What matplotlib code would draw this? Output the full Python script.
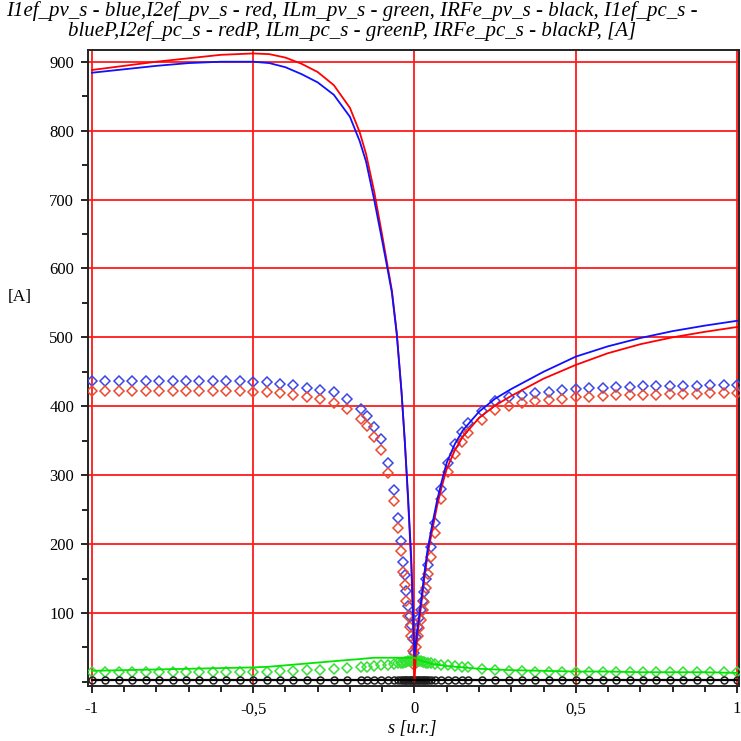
import matplotlib
matplotlib.use("Agg")
import matplotlib.pyplot as plt
from matplotlib.ticker import FixedLocator, MultipleLocator

# ---- data: "pv" series drawn as lines ----
s_line = [-1.0, -0.9, -0.8, -0.7, -0.6, -0.5, -0.45, -0.4, -0.35, -0.3, -0.25, -0.2,
          -0.17, -0.15, -0.125, -0.1, -0.085, -0.07, -0.055, -0.04, -0.03, -0.02, -0.01,
          -0.005, 0.0, 0.005, 0.01, 0.02, 0.03, 0.04, 0.055, 0.07, 0.085, 0.1, 0.125,
          0.15, 0.2, 0.25, 0.3, 0.4, 0.5, 0.6, 0.7, 0.8, 0.9, 1.0]
I1ef_pv = [884, 889, 894, 898, 900, 900, 898, 892, 882, 870, 852, 820,
           785, 755, 700, 640, 603, 565, 505, 420, 350, 270, 180,
           110, 38, 60, 80, 115, 155, 190, 228, 263, 292, 318, 345,
           365, 392, 411, 425, 450, 472, 487, 499, 509, 517, 524]
I2ef_pv = [888, 894, 900, 905, 910, 912, 911, 906, 897, 885, 866, 833,
           798, 766, 712, 648, 608, 568, 507, 420, 348, 265, 170,
           95, 0, 45, 70, 108, 148, 183, 220, 255, 284, 309, 336,
           356, 383, 401, 415, 440, 460, 477, 490, 500, 508, 515]
ILm_pv = [16, 17, 18, 19, 20, 21, 22, 24, 26, 28, 30, 32,
          33, 34, 35, 35, 35, 35, 35, 35, 35, 35, 35,
          35, 35, 34, 33, 31, 29, 28, 26, 25, 24, 23, 22,
          21, 19, 18, 17, 16, 15, 15, 14, 14, 14, 13]
IRFe_pv = [3, 3, 3, 3, 3, 3, 3, 3, 3, 3, 3, 3,
           3, 3, 3, 3, 3, 3, 3, 3, 3, 3, 3,
           3, 3, 3, 3, 3, 3, 3, 3, 3, 3, 3, 3,
           3, 3, 3, 3, 3, 3, 3, 3, 3, 3, 3]

# ---- data: "pc" series drawn as markers ----
s_pc = [-1.0, -0.958, -0.917, -0.875, -0.833, -0.792, -0.75, -0.708, -0.667, -0.625,
        -0.583, -0.542, -0.5, -0.458, -0.417, -0.375, -0.333, -0.292, -0.25, -0.208,
        -0.167, -0.146, -0.125, -0.104, -0.083, -0.0625, -0.05, -0.042, -0.035, -0.03,
        -0.025, -0.02, -0.015, -0.01, -0.005, 0.0,
        0.005, 0.01, 0.015, 0.02, 0.025, 0.03, 0.035, 0.042, 0.05, 0.0625,
        0.083, 0.104, 0.125, 0.146, 0.167, 0.208, 0.25, 0.292, 0.333, 0.375,
        0.417, 0.458, 0.5, 0.542, 0.583, 0.625, 0.667, 0.708, 0.75, 0.792,
        0.833, 0.875, 0.917, 0.958, 1.0]
I1ef_pc = [436, 436, 436, 436, 436, 436, 436, 436, 436, 436,
           436, 436, 435, 435, 433, 431, 427, 424, 420, 411,
           396, 386, 370, 352, 318, 278, 238, 205, 174, 155,
           132, 110, 95, 82, 62, 42,
           65, 80, 92, 104, 118, 130, 150, 170, 195, 230,
           280, 318, 345, 362, 375, 393, 408, 413, 416, 419,
           421, 423, 425, 426, 427, 428, 428, 429, 429, 430,
           430, 430, 431, 431, 431]
I2ef_pc = [422, 422, 422, 422, 422, 422, 422, 422, 422, 422,
           422, 422, 421, 421, 419, 417, 413, 410, 405, 396,
           381, 371, 355, 337, 303, 263, 223, 190, 160, 140,
           118, 96, 80, 66, 45, 25,
           50, 66, 78, 90, 104, 116, 136, 156, 181, 216,
           266, 304, 331, 348, 361, 380, 395, 400, 404, 407,
           409, 411, 413, 414, 415, 416, 416, 417, 417, 418,
           418, 418, 419, 419, 419]
ILm_pc = [15, 15, 15, 15, 15, 15, 15, 15, 15, 15,
          15, 15, 15, 15, 16, 16, 17, 17, 18, 20,
          21, 22, 23, 24, 25, 26, 27, 28, 28, 29,
          29, 30, 30, 31, 31, 32,
          31, 31, 30, 30, 29, 29, 28, 28, 27, 26,
          25, 24, 23, 22, 21, 19, 17, 16, 16, 15,
          15, 15, 15, 15, 15, 15, 15, 15, 15, 15,
          15, 15, 15, 15, 15]
IRFe_pc = [2, 2, 2, 2, 2, 2, 2, 2, 2, 2,
           2, 2, 2, 2, 2, 2, 2, 2, 2, 2,
           2, 2, 2, 2, 2, 2, 3, 3, 3, 3,
           3, 3, 3, 3, 3, 3,
           3, 3, 3, 3, 3, 3, 3, 3, 3, 2,
           2, 2, 2, 2, 2, 2, 2, 2, 2, 2,
           2, 2, 2, 2, 2, 2, 2, 2, 2, 2,
           2, 2, 2, 2, 2]

x_ticks = [-1, -0.5, 0, 0.5, 1]
x_ticklabels = ["-1", "-0,5", "0", "0,5", "1"]
y_ticks = [100, 200, 300, 400, 500, 600, 700, 800, 900]

title = ("I1ef_pv_s - blue,I2ef_pv_s - red, ILm_pv_s - green, IRFe_pv_s - black, I1ef_pc_s -\n"
         "blueP,I2ef_pc_s - redP, ILm_pc_s - greenP, IRFe_pc_s - blackP, [A]")

plt.rcParams['font.family'] = ['Liberation Serif', 'DejaVu Serif']

fig = plt.figure(figsize=(7.41, 7.41), dpi=100)
ax = fig.add_axes([88 / 741, 55 / 741, 651 / 741, 636 / 741])

ax.set_xlim(-1.012, 1.006)
ax.set_ylim(-6, 917)

# grid
for xv in x_ticks:
    ax.axvline(xv, color='#ff1a1a', lw=1.3, zorder=1)
for yv in y_ticks:
    ax.axhline(yv, color='#ff1a1a', lw=1.3, zorder=1)

mk = dict(ls='none', marker='D', ms=5.0, mfc='none', mew=1.1, zorder=3)
ax.plot(s_pc, I1ef_pc, mec='#3a46e8', **mk)
ax.plot(s_pc, I2ef_pc, mec='#ec4a30', **mk)
ax.plot(s_pc, ILm_pc, mec='#33e033', **mk)
ax.plot(s_pc, IRFe_pc, ls='none', marker='o', ms=5.0, mfc='none', mec='#202020',
        mew=1.1, zorder=3)

ax.plot(s_line, I2ef_pv, color='#ff0000', lw=1.3, zorder=4)
ax.plot(s_line, I1ef_pv, color='#1010ff', lw=1.3, zorder=4)
ax.plot(s_line, ILm_pv, color='#00e600', lw=1.3, zorder=4)
ax.plot(s_line, IRFe_pv, color='black', lw=1.6, zorder=4)

ax.xaxis.set_major_locator(FixedLocator(x_ticks))
ax.set_xticklabels(x_ticklabels)
ax.xaxis.set_minor_locator(MultipleLocator(0.1))
ax.yaxis.set_major_locator(FixedLocator(y_ticks))
ax.yaxis.set_minor_locator(MultipleLocator(50))
ax.tick_params(axis='both', which='major', direction='out', length=5, width=1.2,
               labelsize=12, color='black')
ax.tick_params(axis='both', which='minor', direction='out', length=4, width=1.2,
               color='black')
ax.tick_params(axis='y', pad=5)
ax.tick_params(axis='x', pad=6)

for sp in ax.spines.values():
    sp.set_linewidth(1.4)
    sp.set_color('#222222')

fig.text(0.475, 0.999, title, ha='center', va='top', fontsize=15, style='italic',
         linespacing=1.0)
fig.text(412 / 741, 1 - 729 / 741, "s [u.r.]", ha='center', va='center', fontsize=13,
         style='italic')
fig.text(20 / 741, 1 - 297 / 741, "[A]", ha='center', va='center', fontsize=12.5)

fig.savefig("out.png", dpi=100)
